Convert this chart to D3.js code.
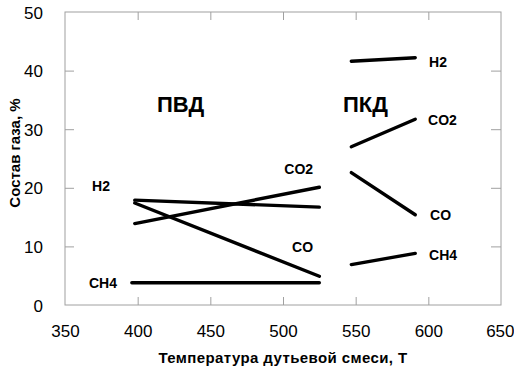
<!DOCTYPE html>
<html lang="ru">
  <head>
    <meta charset="utf-8" />
    <title>Состав газа</title>
    <script src="https://d3js.org/d3.v7.min.js"></script>
    <style>
      body { margin: 0; background: #fff; }
      svg text { font-family: "Liberation Sans", Arial, sans-serif; fill: #000; }
    </style>
  </head>
  <body>
    <script>
      // temperatures of the two regimes
      var pvdT = [398, 525];
      var pkdT = [547, 591];

      // gas composition, %
      var pvdH2 = [17.9, 16.7];
      var pvdCO2 = [13.9, 20.1];
      var pvdCO = [17.4, 4.9];
      var pvdCH4 = [3.8, 3.8];
      var pkdH2 = [41.6, 42.2];
      var pkdCO2 = [27.0, 31.7];
      var pkdCO = [22.6, 15.4];
      var pkdCH4 = [6.9, 8.8];

      var xTicks = [350, 400, 450, 500, 550, 600, 650];
      var yTicks = [0, 10, 20, 30, 40, 50];

      // annotations: text, T, value, anchor
      var gasLabels = [
        ["H2", 368.6, 19.45, "start"],
        ["CH4", 366.5, 2.9, "start"],
        ["CO2", 520.7, 22.35, "end"],
        ["CO", 520.7, 9.0, "end"],
        ["H2", 600.5, 40.6, "start"],
        ["CO2", 599.8, 30.7, "start"],
        ["CO", 601.2, 14.5, "start"],
        ["CH4", 600.5, 7.7, "start"],
      ];
      var regimeLabels = [
        ["ПВД", 413.3, 32.9],
        ["ПКД", 541.3, 32.9],
      ];

      var width = 514,
        height = 369;
      var margin = { top: 12, right: 13, bottom: 64, left: 65 };

      var svg = d3
        .select("body")
        .append("svg")
        .attr("width", width)
        .attr("height", height);

      var x = d3.scaleLinear().domain([350, 650]).range([margin.left, width - margin.right]);
      var y = d3.scaleLinear().domain([0, 50]).range([height - margin.bottom, margin.top]);

      var frameColor = "#a0a0a0";

      // frame with inward ticks on all sides
      svg
        .append("rect")
        .attr("x", x(350))
        .attr("y", y(50))
        .attr("width", x(650) - x(350))
        .attr("height", y(0) - y(50))
        .attr("fill", "none")
        .attr("stroke", frameColor)
        .attr("stroke-width", 1);

      var xAxis = svg
        .append("g")
        .attr("transform", "translate(0," + y(0) + ")")
        .call(d3.axisBottom(x).tickValues(xTicks).tickSize(-8).tickPadding(20).tickSizeOuter(0));
      var xTop = svg
        .append("g")
        .attr("transform", "translate(0," + y(50) + ")")
        .call(d3.axisTop(x).tickValues(xTicks).tickSize(-8).tickFormat("").tickSizeOuter(0));
      var yAxis = svg
        .append("g")
        .attr("transform", "translate(" + x(350) + ",0)")
        .call(d3.axisLeft(y).tickValues(yTicks).tickSize(-9).tickPadding(22).tickSizeOuter(0));
      var yRight = svg
        .append("g")
        .attr("transform", "translate(" + x(650) + ",0)")
        .call(d3.axisRight(y).tickValues(yTicks).tickSize(-10).tickFormat("").tickSizeOuter(0));

      [xAxis, xTop, yAxis, yRight].forEach(function (g) {
        g.select(".domain").remove();
        g.selectAll(".tick line").attr("stroke", frameColor);
        g.selectAll(".tick text").style("font-size", "17px").attr("fill", "#000");
      });
      // no tick marks on the frame corners
      xAxis.selectAll(".tick").filter(function (d) { return d === 350 || d === 650; }).select("line").remove();
      xTop.selectAll(".tick").filter(function (d) { return d === 350 || d === 650; }).select("line").remove();
      yAxis.selectAll(".tick").filter(function (d) { return d === 0 || d === 50; }).select("line").remove();
      yRight.selectAll(".tick").filter(function (d) { return d === 0 || d === 50; }).select("line").remove();
      yAxis.selectAll(".tick text").attr("dy", "0.36em");
      // last label sits at the page edge, keep it inside
      xAxis.selectAll(".tick").filter(function (d) { return d === 650; }).select("text").attr("text-anchor", "end").attr("x", 13);

      // lines
      var series = [
        [pvdT, pvdH2],
        [pvdT, pvdCO2],
        [pvdT, pvdCO],
        [[396, 525], pvdCH4],
        [pkdT, pkdH2],
        [pkdT, pkdCO2],
        [pkdT, pkdCO],
        [pkdT, pkdCH4],
      ];
      var line = d3
        .line()
        .x(function (d) { return x(d[0]); })
        .y(function (d) { return y(d[1]); });

      svg
        .selectAll("path.gas")
        .data(series)
        .enter()
        .append("path")
        .attr("class", "gas")
        .attr("d", function (s) {
          return line(d3.zip(s[0], s[1]));
        })
        .attr("fill", "none")
        .attr("stroke", "#000")
        .attr("stroke-width", 3.4)
        .attr("stroke-linecap", "round");

      // gas labels
      svg
        .selectAll("text.gas-label")
        .data(gasLabels)
        .enter()
        .append("text")
        .attr("class", "gas-label")
        .attr("x", function (d) { return x(d[1]); })
        .attr("y", function (d) { return y(d[2]); })
        .attr("text-anchor", function (d) { return d[3]; })
        .style("font-size", "14px")
        .style("font-weight", "bold")
        .text(function (d) { return d[0]; });

      svg
        .selectAll("text.regime")
        .data(regimeLabels)
        .enter()
        .append("text")
        .attr("class", "regime")
        .attr("x", function (d) { return x(d[1]); })
        .attr("y", function (d) { return y(d[2]); })
        .style("font-size", "22px")
        .style("font-weight", "bold")
        .text(function (d) { return d[0]; });

      // axis titles
      svg
        .append("text")
        .attr("x", 283)
        .attr("y", 363)
        .attr("text-anchor", "middle")
        .style("font-size", "15px")
        .style("font-weight", "bold")
        .style("letter-spacing", "0.4px")
        .text("Температура дутьевой смеси, Т");

      svg
        .append("text")
        .attr("transform", "translate(20,153) rotate(-90)")
        .attr("text-anchor", "middle")
        .style("font-size", "15px")
        .style("font-weight", "bold")
        .text("Состав газа, %");
    </script>
  </body>
</html>
